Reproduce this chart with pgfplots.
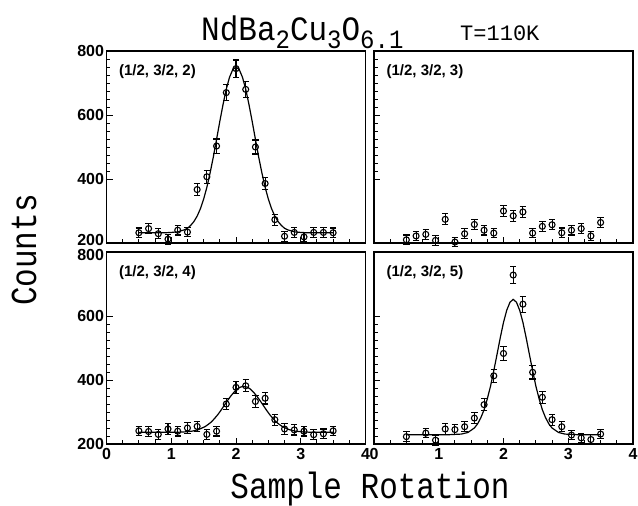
\documentclass[border=0pt]{standalone}
\usepackage{pgfplots}
\pgfplotsset{compat=1.18}
\usepackage{pgfplotstable}
\usepackage{fontspec}
\setmainfont{Liberation Sans}
\newfontfamily\monofam{Liberation Mono}

\pgfplotstableread{
x y e
0.50 232 15
0.65 245 16
0.80 229 15
0.95 212 15
1.10 240 15
1.25 234 15
1.40 367 19
1.55 407 20
1.70 503 22
1.85 670 26
2.00 745 27
2.15 680 26
2.30 500 22
2.45 386 20
2.60 273 17
2.75 221 15
2.90 233 15
3.05 219 15
3.20 233 15
3.35 233 15
3.50 232 15
}\dataA

\pgfplotstableread{
x y e
0.50 210 15
0.65 222 15
0.80 227 15
0.95 208 15
1.10 274 17
1.25 203 14
1.40 229 15
1.55 258 16
1.70 240 15
1.85 231 15
2.00 300 17
2.15 285 17
2.30 297 17
2.45 231 15
2.60 252 16
2.75 257 16
2.90 232 15
3.05 240 15
3.20 245 16
3.35 222 15
3.50 264 16
}\dataB

\pgfplotstableread{
x y e
0.50 241 15
0.65 239 15
0.80 230 15
0.95 247 16
1.10 240 15
1.25 250 16
1.40 255 16
1.55 230 15
1.70 240 15
1.85 325 18
2.00 377 19
2.15 382 19
2.30 333 18
2.45 343 18
2.60 276 17
2.75 247 16
2.90 244 16
3.05 240 15
3.20 229 15
3.35 232 15
3.50 241 15
}\dataC

\pgfplotstableread{
x y e
0.50 223 15
0.80 234 15
0.95 212 15
1.10 247 16
1.25 245 16
1.40 254 16
1.55 281 17
1.70 323 18
1.85 413 20
2.00 483 22
2.15 728 27
2.30 637 25
2.45 424 21
2.60 346 19
2.75 276 17
2.90 254 16
3.05 228 15
3.20 219 15
3.35 214 15
3.50 231 15
}\dataD

\pgfplotstableread{
x y
0.50 232
0.90 232
1.00 233
1.10 235
1.20 241
1.25 246
1.30 255
1.35 267
1.40 284
1.45 307
1.50 337
1.55 374
1.60 419
1.65 469
1.70 524
1.75 580
1.80 633
1.85 681
1.90 718
1.95 742
2.00 750
2.05 742
2.10 718
2.15 681
2.20 633
2.25 580
2.30 524
2.35 469
2.40 419
2.45 374
2.50 337
2.55 307
2.60 284
2.65 267
2.70 255
2.75 246
2.80 241
2.90 235
3.00 233
3.10 232
3.50 232
}\fitA

\pgfplotstableread{
x y
0.50 237
1.12 237
1.22 238
1.32 240
1.42 245
1.52 254
1.57 261
1.62 269
1.67 280
1.72 292
1.77 306
1.82 321
1.87 336
1.92 350
1.97 362
2.02 372
2.07 378
2.12 380
2.17 378
2.22 372
2.27 362
2.32 350
2.37 336
2.42 321
2.47 306
2.52 292
2.57 280
2.62 269
2.67 261
2.72 254
2.82 245
2.92 240
3.02 238
3.12 237
3.50 237
}\fitC

\pgfplotstableread{
x y
0.50 229
1.15 229
1.25 230
1.35 231
1.45 236
1.55 250
1.60 263
1.65 282
1.70 307
1.75 341
1.80 381
1.85 429
1.90 480
1.95 532
2.00 580
2.05 618
2.10 643
2.15 652
2.20 643
2.25 618
2.30 580
2.35 532
2.40 480
2.45 429
2.50 381
2.55 341
2.60 307
2.65 282
2.70 263
2.75 250
2.85 236
2.95 231
3.05 230
3.15 229
3.50 229
}\fitD

\pgfplotsset{
  panel/.style={
    scale only axis, width=259pt, height=192pt,
    xmin=0, xmax=4, ymin=200, ymax=800,
    xtick={0,1,2,3,4},
    minor x tick num=3, minor y tick num=7,
    tick align=inside, tick pos=left,
    major tick length=6pt, minor tick length=3.5pt,
    every tick/.style={black, line width=0.9pt},
    axis line style={line width=1.1pt},
    tick label style={font=\bfseries\fontsize{16}{16}\selectfont},
    yticklabel style={xshift=1pt},
    xticklabel style={yshift=-1pt},
    /pgf/number format/assume math mode=true,
    clip=false,
  },
  toppanel/.style={panel, ytick={400,600,800}, extra y ticks={200},
    extra y tick style={yticklabel style={yshift=3pt}}},
  botpanel/.style={panel, ytick={200,400,600}, extra y ticks={800},
    extra y tick style={yticklabel style={yshift=-3pt}}},
  pts/.style={black, only marks, mark=o, mark size=3pt,
    mark options={fill=white, line width=1.1pt},
    error bars/.cd, y dir=both, y explicit,
    error bar style={line width=1.1pt},
    error mark options={rotate=90, mark size=3.2pt, line width=1.1pt}},
  fit/.style={black, line width=1.2pt},
}

\newcommand{\plab}{\bfseries\fontsize{15}{15}\selectfont}

\begin{document}
\begin{tikzpicture}
\useasboundingbox (0,0) rectangle (638pt,-506pt);

\begin{axis}[toppanel, at={(106.5pt,-51pt)}, anchor=north west, xticklabels={}]
  \addplot[fit] table[x=x,y=y]{\fitA};
  \addplot[pts] table[x=x,y=y,y error=e]{\dataA};
  \node[anchor=west, font=\plab] at (rel axis cs:0.035,0.895) {(1/2, 3/2, 2)};
\end{axis}

\begin{axis}[toppanel, at={(374pt,-51pt)}, anchor=north west, xticklabels={}, yticklabels={}, extra y tick labels={}]
  \addplot[pts] table[x=x,y=y,y error=e]{\dataB};
  \node[anchor=west, font=\plab] at (rel axis cs:0.035,0.895) {(1/2, 3/2, 3)};
\end{axis}

\begin{axis}[botpanel, at={(106.5pt,-252pt)}, anchor=north west]
  \addplot[fit] table[x=x,y=y]{\fitC};
  \addplot[pts] table[x=x,y=y,y error=e]{\dataC};
  \node[anchor=west, font=\plab] at (rel axis cs:0.035,0.895) {(1/2, 3/2, 4)};
\end{axis}

\begin{axis}[botpanel, at={(374pt,-252pt)}, anchor=north west, yticklabels={}, extra y tick labels={}]
  \addplot[fit] table[x=x,y=y]{\fitD};
  \addplot[pts] table[x=x,y=y,y error=e]{\dataD};
  \node[anchor=west, font=\plab] at (rel axis cs:0.035,0.895) {(1/2, 3/2, 5)};
\end{axis}

% title
\node[anchor=base west, inner sep=0] at (201pt,-40pt) {\scalebox{1}[1.1]{\monofam\fontsize{31}{31}\selectfont NdBa\raisebox{-8pt}{\fontsize{24}{24}\selectfont 2}Cu\raisebox{-8pt}{\fontsize{24}{24}\selectfont 3}O\raisebox{-8pt}{\fontsize{24}{24}\selectfont 6.1}}};
\node[anchor=base west, inner sep=0] at (460pt,-40pt) {\monofam\fontsize{22}{22}\selectfont T=110K};

% axis labels
\node[inner sep=0, anchor=base] at (370pt,-498pt) {\scalebox{1}[1.18]{\monofam\fontsize{31}{31}\selectfont Sample Rotation}};
\node[inner sep=0, rotate=90] at (24pt,-250pt) {\scalebox{1}[1.18]{\monofam\fontsize{31}{31}\selectfont Counts}};
\end{tikzpicture}
\end{document}
